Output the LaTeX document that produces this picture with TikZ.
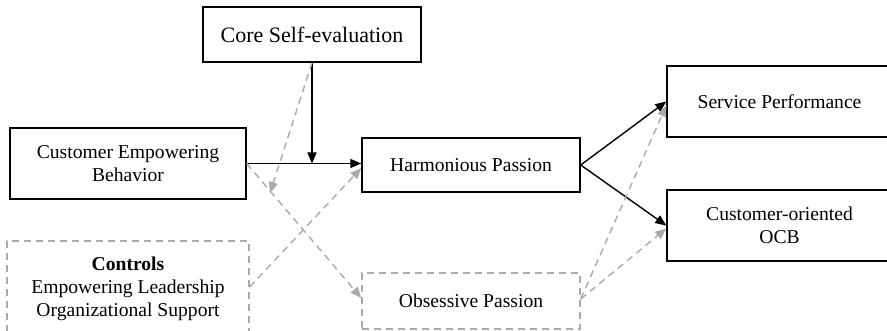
\documentclass[tikz,border=0pt]{standalone}
\usepackage{fontspec}
\setmainfont{Liberation Serif}
\usetikzlibrary{arrows.meta,calc}
\definecolor{dgray}{RGB}{170,170,170}
\tikzset{
  box/.style={draw=black, line width=1.4pt, rectangle, inner sep=0pt, align=center,
    font=\fontsize{19.6}{23}\selectfont},
  dbox/.style={draw=dgray, line width=1.4pt, dash pattern=on 7pt off 5pt, rectangle, inner sep=0pt, align=center,
    font=\fontsize{19.6}{23}\selectfont},
  blk/.style={draw=black, line width=1.4pt, -{Triangle[length=11pt,width=9pt]}},
  gry/.style={draw=dgray, line width=1.4pt, dash pattern=on 7pt off 5pt, -{Triangle[length=11pt,width=9pt,fill=dgray]}},
}
\begin{document}
\begin{tikzpicture}[x=1pt,y=-1pt]
\useasboundingbox (0,0) rectangle (887,331);
\clip (0,0) rectangle (887,331);
\fill[white] (0,0) rectangle (887,331);
\node[box, minimum width=218pt, minimum height=55pt, font=\fontsize{22}{26}\selectfont] (cse) at (312,34.5) {Core Self-evaluation};
\node[box, minimum width=236pt, minimum height=71pt] (ceb) at (128,163.5) {Customer Empowering\\Behavior};
\node[box, minimum width=218pt, minimum height=54pt] (hp) at (471,165) {Harmonious Passion};
\node[box, minimum width=225pt, minimum height=71pt] (sp) at (779.5,101.5) {Service Performance};
\node[box, minimum width=225pt, minimum height=71pt] (ocb) at (779.5,225.5) {Customer-oriented\\OCB};
\node[dbox, minimum width=242pt, minimum height=104pt] (ctrl) at (128,293) {};
\node[align=center, inner sep=0pt, font=\fontsize{19.6}{23}\selectfont] (ctrltext) at (128,289) {\textbf{Controls}\\Empowering Leadership\\Organizational Support};
\node[dbox, minimum width=218pt, minimum height=56pt] (op) at (471,301) {Obsessive Passion};
\coordinate (mod) at (cse.south |- ceb.east);
\coordinate (m1) at (270,193);
% black paths
\draw[blk] (ceb.east) -- (ceb.east -| hp.west);
\draw[blk] (cse.south) -- (mod);
\draw[blk] (hp.east) -- (sp.west);
\draw[blk] (hp.east) -- (ocb.west);
% gray dashed paths
\draw[gry] (cse.south) -- (m1);
\draw[gry] (ceb.east) -- ($(op.west)+(0,-3)$);
\draw[gry] ($(ctrl.east)+(0,-6)$) -- ($(hp.west)+(0,3)$);
\draw[gry] ($(op.east)+(0,-2)$) -- ($(sp.west)+(0,4)$);
\draw[gry] ($(op.east)+(0,-2)$) -- ($(ocb.west)+(0,3)$);
\end{tikzpicture}
\end{document}
